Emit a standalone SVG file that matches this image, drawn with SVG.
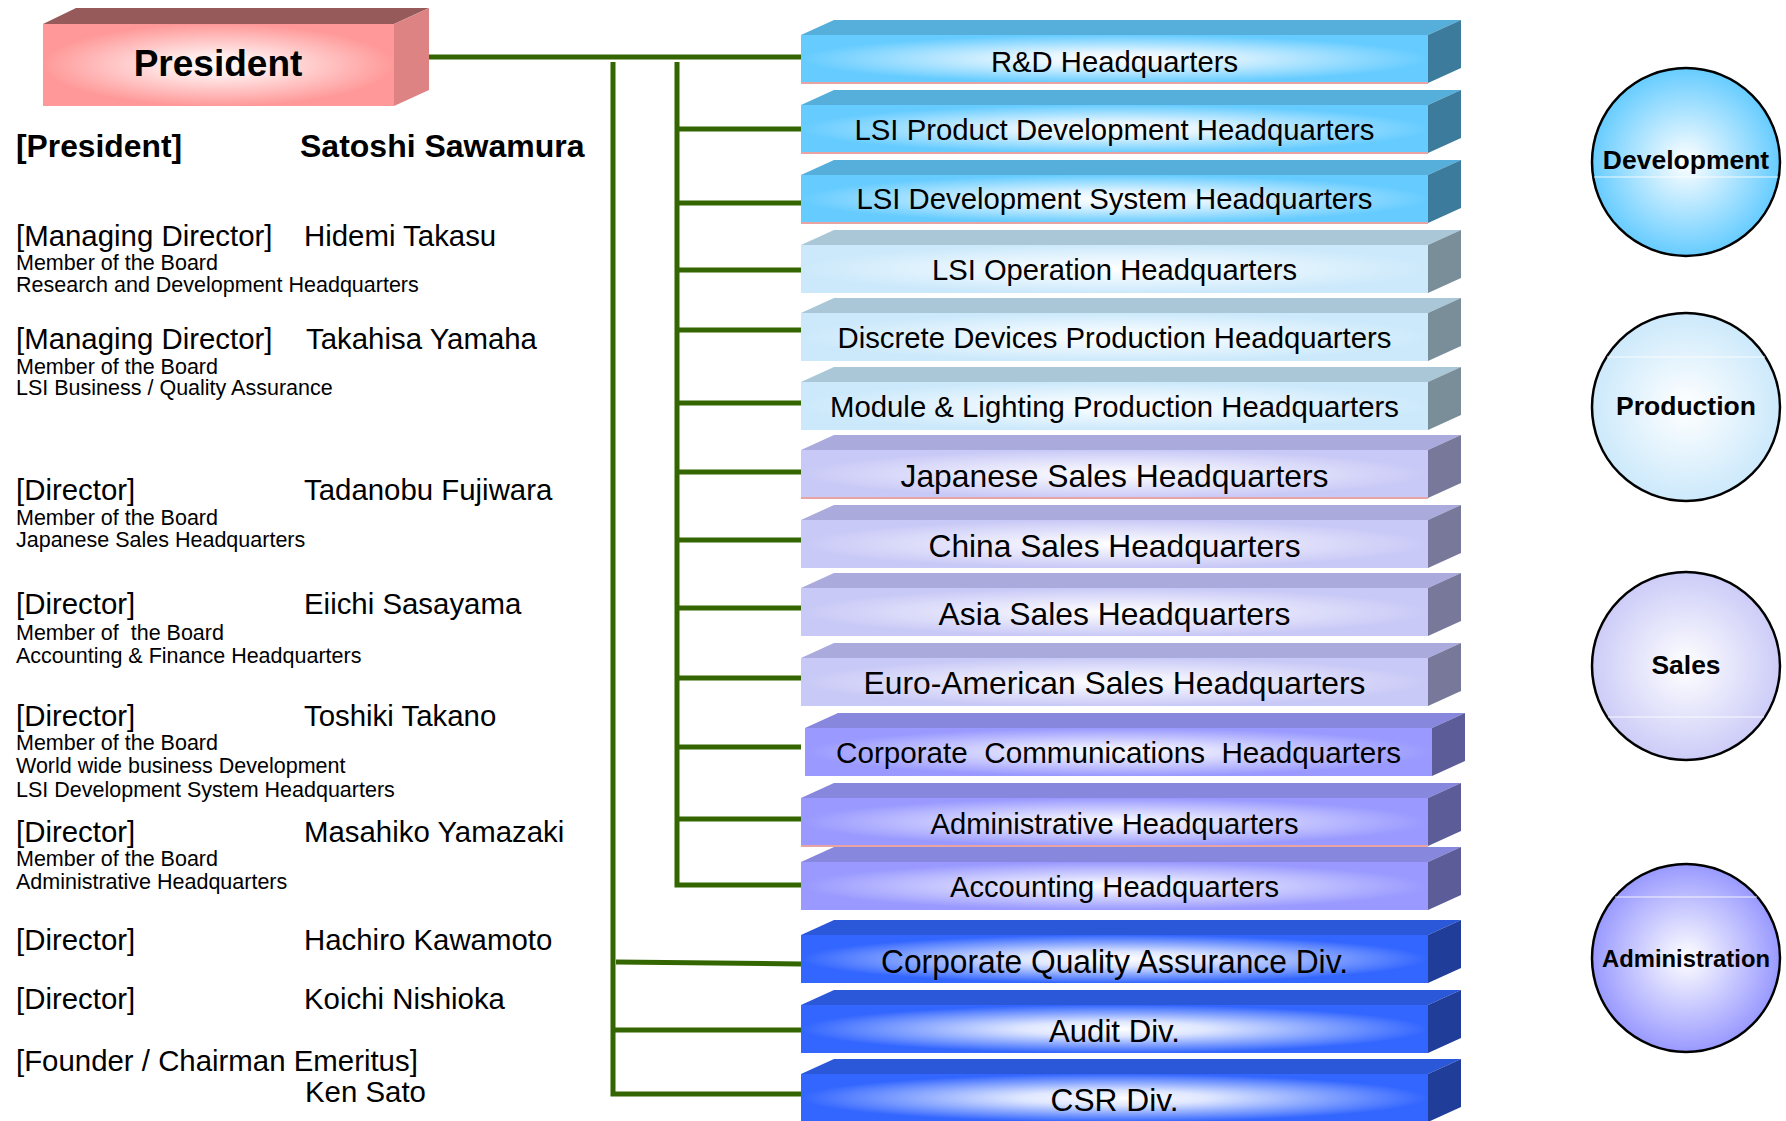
<svg xmlns="http://www.w3.org/2000/svg" width="1786" height="1121" viewBox="0 0 1786 1121">
<style>
text{font-family:"Liberation Sans",Arial,sans-serif;fill:#000}
.b{font-weight:bold}
.lbl{text-anchor:middle}
.big{font-size:29.4px}
.sm{font-size:21.5px}
.conn{stroke:#336600;stroke-width:5;fill:none}
.devT{fill:#56aedb}.devS{fill:#3c7b9b}
.proT{fill:#a9c7d7}.proS{fill:#7a8e99}
.salT{fill:#aaaadc}.salS{fill:#78789a}
.admT{fill:#8787dd}.admS{fill:#5c5c99}
.divT{fill:#2b57d9}.divS{fill:#1f3d99}
.pink{stroke:#e9a3a3;stroke-width:2}
.circ{stroke:#000;stroke-width:2.5}
.chord{stroke:#fff;stroke-width:1;opacity:.85}
</style>
<defs>
<radialGradient id="gPres" cx="0.5" cy="0.5" r="0.5"><stop offset="0" stop-color="#ffffff"/><stop offset="0.3" stop-color="#ffe6e6"/><stop offset="1" stop-color="#ff9999"/></radialGradient>
<radialGradient id="gDev" cx="0.5" cy="0.5" r="0.5"><stop offset="0" stop-color="#ffffff"/><stop offset="0.3" stop-color="#e4f5ff"/><stop offset="1" stop-color="#66ccff"/></radialGradient>
<radialGradient id="gPro" cx="0.5" cy="0.5" r="0.5"><stop offset="0" stop-color="#ffffff"/><stop offset="0.3" stop-color="#f0f9ff"/><stop offset="1" stop-color="#cce9fb"/></radialGradient>
<radialGradient id="gSal" cx="0.5" cy="0.5" r="0.5"><stop offset="0" stop-color="#ffffff"/><stop offset="0.3" stop-color="#efeffd"/><stop offset="1" stop-color="#c9c9f7"/></radialGradient>
<radialGradient id="gAdm" cx="0.5" cy="0.5" r="0.5"><stop offset="0" stop-color="#ffffff"/><stop offset="0.3" stop-color="#e2e2ff"/><stop offset="1" stop-color="#9999ff"/></radialGradient>
<radialGradient id="gDiv" cx="0.5" cy="0.5" r="0.5"><stop offset="0" stop-color="#ffffff"/><stop offset="0.3" stop-color="#dfe7ff"/><stop offset="1" stop-color="#3366ff"/></radialGradient>
<radialGradient id="cDev" cx="0.5" cy="0.5" r="0.5"><stop offset="0" stop-color="#ffffff"/><stop offset="1" stop-color="#66ccff"/></radialGradient>
<radialGradient id="cPro" cx="0.5" cy="0.5" r="0.5"><stop offset="0" stop-color="#ffffff"/><stop offset="1" stop-color="#cce9fb"/></radialGradient>
<radialGradient id="cSal" cx="0.5" cy="0.5" r="0.5"><stop offset="0" stop-color="#ffffff"/><stop offset="1" stop-color="#ccccf8"/></radialGradient>
<radialGradient id="cAdm" cx="0.5" cy="0.5" r="0.5"><stop offset="0" stop-color="#ffffff"/><stop offset="1" stop-color="#9999ff"/></radialGradient>
</defs>
<rect x="0" y="0" width="1786" height="1121" fill="#fff"/>

<g id="connectors">
<path class="conn" d="M428,57 H801"/>
<path class="conn" d="M613,62 V1094 H801"/>
<path class="conn" d="M677,62 V885 H801"/>
<path class="conn" d="M675,129 H801 M675,203 H801 M675,270 H801 M675,330 H801 M675,403 H801 M675,472 H801 M675,540 H801 M675,608 H801 M675,678 H801 M675,747 H801 M675,819 H801"/>
<path class="conn" d="M616,962 L801,964 M613,1030 H801"/>
</g>

<g id="president">
<polygon points="43,24 76,8 429,8 394,24" fill="#965a5a"/>
<polygon points="394,24 429,8 429,90 394,106" fill="#de8383"/>
<rect x="43" y="24" width="351" height="82" fill="url(#gPres)"/>
<text class="b lbl" x="218" y="76" font-size="37">President</text>
</g>

<g id="officers">
<text class="b" x="16" y="157" font-size="31.8">[President]</text>
<text class="b" x="300" y="157" font-size="32">Satoshi Sawamura</text>
<text class="big" x="16" y="246">[Managing Director]</text>
<text class="big" x="304" y="246">Hidemi Takasu</text>
<text class="sm" x="16" y="270">Member of the Board</text>
<text class="sm" x="16" y="292">Research and Development Headquarters</text>
<text class="big" x="16" y="349">[Managing Director]</text>
<text class="big" x="306" y="349">Takahisa Yamaha</text>
<text class="sm" x="16" y="374">Member of the Board</text>
<text class="sm" x="16" y="395">LSI Business / Quality Assurance</text>
<text class="big" x="16" y="500">[Director]</text>
<text class="big" x="304" y="500">Tadanobu Fujiwara</text>
<text class="sm" x="16" y="525">Member of the Board</text>
<text class="sm" x="16" y="547">Japanese Sales Headquarters</text>
<text class="big" x="16" y="614">[Director]</text>
<text class="big" x="304" y="614">Eiichi Sasayama</text>
<text class="sm" x="16" y="640" xml:space="preserve">Member of  the Board</text>
<text class="sm" x="16" y="663">Accounting &amp; Finance Headquarters</text>
<text class="big" x="16" y="726">[Director]</text>
<text class="big" x="304" y="726">Toshiki Takano</text>
<text class="sm" x="16" y="750">Member of the Board</text>
<text class="sm" x="16" y="773">World wide business Development</text>
<text class="sm" x="16" y="797">LSI Development System Headquarters</text>
<text class="big" x="16" y="842">[Director]</text>
<text class="big" x="304" y="842">Masahiko Yamazaki</text>
<text class="sm" x="16" y="866">Member of the Board</text>
<text class="sm" x="16" y="889">Administrative Headquarters</text>
<text class="big" x="16" y="950">[Director]</text>
<text class="big" x="304" y="950">Hachiro Kawamoto</text>
<text class="big" x="16" y="1009">[Director]</text>
<text class="big" x="304" y="1009">Koichi Nishioka</text>
<text class="big" x="16" y="1071">[Founder / Chairman Emeritus]</text>
<text class="big" x="305" y="1102">Ken Sato</text>
</g>

<g id="box-rd" transform="translate(0,35)">
<polygon class="devT" points="801,0 834,-15 1461,-15 1428,0"/>
<polygon class="devS" points="1428,0 1461,-15 1461,33 1428,48"/>
<rect x="801" y="0" width="627" height="48" fill="url(#gDev)"/>
<line class="pink" x1="801" y1="48" x2="1428" y2="48"/>
<text class="lbl" x="1114.5" y="37" font-size="29" textLength="247" lengthAdjust="spacingAndGlyphs">R&amp;D Headquarters</text>
</g>
<g id="box-lsi-product" transform="translate(0,105)">
<polygon class="devT" points="801,0 834,-15 1461,-15 1428,0"/>
<polygon class="devS" points="1428,0 1461,-15 1461,33 1428,48"/>
<rect x="801" y="0" width="627" height="48" fill="url(#gDev)"/>
<line class="pink" x1="801" y1="48" x2="1428" y2="48"/>
<text class="lbl" x="1114.5" y="35" font-size="29.5" textLength="520" lengthAdjust="spacingAndGlyphs">LSI Product Development Headquarters</text>
</g>
<g id="box-lsi-devsys" transform="translate(0,175)">
<polygon class="devT" points="801,0 834,-15 1461,-15 1428,0"/>
<polygon class="devS" points="1428,0 1461,-15 1461,33 1428,48"/>
<rect x="801" y="0" width="627" height="48" fill="url(#gDev)"/>
<line class="pink" x1="801" y1="48" x2="1428" y2="48"/>
<text class="lbl" x="1114.5" y="34" font-size="29.5" textLength="516" lengthAdjust="spacingAndGlyphs">LSI Development System Headquarters</text>
</g>
<g id="box-lsi-operation" transform="translate(0,245)">
<polygon class="proT" points="801,0 834,-15 1461,-15 1428,0"/>
<polygon class="proS" points="1428,0 1461,-15 1461,33 1428,48"/>
<rect x="801" y="0" width="627" height="48" fill="url(#gPro)"/>
<text class="lbl" x="1114.5" y="35" font-size="29.5" textLength="365" lengthAdjust="spacingAndGlyphs">LSI Operation Headquarters</text>
</g>
<g id="box-discrete" transform="translate(0,313)">
<polygon class="proT" points="801,0 834,-15 1461,-15 1428,0"/>
<polygon class="proS" points="1428,0 1461,-15 1461,33 1428,48"/>
<rect x="801" y="0" width="627" height="48" fill="url(#gPro)"/>
<text class="lbl" x="1114.5" y="35" font-size="29.5" textLength="554" lengthAdjust="spacingAndGlyphs">Discrete Devices Production Headquarters</text>
</g>
<g id="box-module" transform="translate(0,382)">
<polygon class="proT" points="801,0 834,-15 1461,-15 1428,0"/>
<polygon class="proS" points="1428,0 1461,-15 1461,33 1428,48"/>
<rect x="801" y="0" width="627" height="48" fill="url(#gPro)"/>
<text class="lbl" x="1114.5" y="35" font-size="29.5" textLength="569" lengthAdjust="spacingAndGlyphs">Module &amp; Lighting Production Headquarters</text>
</g>
<g id="box-japan-sales" transform="translate(0,450)">
<polygon class="salT" points="801,0 834,-15 1461,-15 1428,0"/>
<polygon class="salS" points="1428,0 1461,-15 1461,33 1428,48"/>
<rect x="801" y="0" width="627" height="48" fill="url(#gSal)"/>
<line class="pink" x1="801" y1="48" x2="1428" y2="48"/>
<text class="lbl" x="1114.5" y="37" font-size="31.8" textLength="428" lengthAdjust="spacingAndGlyphs">Japanese Sales Headquarters</text>
</g>
<g id="box-china-sales" transform="translate(0,520)">
<polygon class="salT" points="801,0 834,-15 1461,-15 1428,0"/>
<polygon class="salS" points="1428,0 1461,-15 1461,33 1428,48"/>
<rect x="801" y="0" width="627" height="48" fill="url(#gSal)"/>
<text class="lbl" x="1114.5" y="37" font-size="31.6" textLength="372" lengthAdjust="spacingAndGlyphs">China Sales Headquarters</text>
</g>
<g id="box-asia-sales" transform="translate(0,588)">
<polygon class="salT" points="801,0 834,-15 1461,-15 1428,0"/>
<polygon class="salS" points="1428,0 1461,-15 1461,33 1428,48"/>
<rect x="801" y="0" width="627" height="48" fill="url(#gSal)"/>
<text class="lbl" x="1114.5" y="37" font-size="31.6" textLength="352" lengthAdjust="spacingAndGlyphs">Asia Sales Headquarters</text>
</g>
<g id="box-euro-sales" transform="translate(0,658)">
<polygon class="salT" points="801,0 834,-15 1461,-15 1428,0"/>
<polygon class="salS" points="1428,0 1461,-15 1461,33 1428,48"/>
<rect x="801" y="0" width="627" height="48" fill="url(#gSal)"/>
<text class="lbl" x="1114.5" y="36" font-size="31.8" textLength="502" lengthAdjust="spacingAndGlyphs">Euro-American Sales Headquarters</text>
</g>
<g id="box-corp-comm" transform="translate(4,728)">
<polygon class="admT" points="801,0 834,-15 1461,-15 1428,0"/>
<polygon class="admS" points="1428,0 1461,-15 1461,33 1428,48"/>
<rect x="801" y="0" width="627" height="48" fill="url(#gAdm)"/>
<text class="lbl" x="1114.5" y="35" font-size="29.8" textLength="565" lengthAdjust="spacingAndGlyphs" xml:space="preserve">Corporate  Communications  Headquarters</text>
</g>
<g id="box-administrative" transform="translate(0,798)">
<polygon class="admT" points="801,0 834,-15 1461,-15 1428,0"/>
<polygon class="admS" points="1428,0 1461,-15 1461,33 1428,48"/>
<rect x="801" y="0" width="627" height="48" fill="url(#gAdm)"/>
<line class="pink" x1="801" y1="48" x2="1428" y2="48"/>
<text class="lbl" x="1114.5" y="36" font-size="29.2" textLength="368" lengthAdjust="spacingAndGlyphs">Administrative Headquarters</text>
</g>
<g id="box-accounting" transform="translate(0,862)">
<polygon class="admT" points="801,0 834,-15 1461,-15 1428,0"/>
<polygon class="admS" points="1428,0 1461,-15 1461,33 1428,48"/>
<rect x="801" y="0" width="627" height="48" fill="url(#gAdm)"/>
<text class="lbl" x="1114.5" y="35" font-size="29" textLength="329" lengthAdjust="spacingAndGlyphs">Accounting Headquarters</text>
</g>
<g id="box-cqa" transform="translate(0,935)">
<polygon class="divT" points="801,0 834,-15 1461,-15 1428,0"/>
<polygon class="divS" points="1428,0 1461,-15 1461,33 1428,48"/>
<rect x="801" y="0" width="627" height="48" fill="url(#gDiv)"/>
<text class="lbl" x="1114.5" y="38" font-size="32.5" textLength="467" lengthAdjust="spacingAndGlyphs">Corporate Quality Assurance Div.</text>
</g>
<g id="box-audit" transform="translate(0,1005)">
<polygon class="divT" points="801,0 834,-15 1461,-15 1428,0"/>
<polygon class="divS" points="1428,0 1461,-15 1461,33 1428,48"/>
<rect x="801" y="0" width="627" height="48" fill="url(#gDiv)"/>
<text class="lbl" x="1114.5" y="37" font-size="31.8" textLength="131" lengthAdjust="spacingAndGlyphs">Audit Div.</text>
</g>
<g id="box-csr" transform="translate(0,1074)">
<polygon class="divT" points="801,0 834,-15 1461,-15 1428,0"/>
<polygon class="divS" points="1428,0 1461,-15 1461,33 1428,48"/>
<rect x="801" y="0" width="627" height="48" fill="url(#gDiv)"/>
<text class="lbl" x="1114.5" y="37" font-size="32.2" textLength="128" lengthAdjust="spacingAndGlyphs">CSR Div.</text>
</g>

<g id="circle-development">
<circle class="circ" cx="1686" cy="162" r="94" fill="url(#cDev)"/>
<line class="chord" x1="1594" y1="177" x2="1778" y2="177"/>
<text class="b lbl" x="1686" y="169" font-size="26.5">Development</text>
</g>
<g id="circle-production">
<circle class="circ" cx="1686" cy="407" r="94" fill="url(#cPro)"/>
<line class="chord" x1="1607" y1="357" x2="1765" y2="357"/>
<text class="b lbl" x="1686" y="415" font-size="26.5">Production</text>
</g>
<g id="circle-sales">
<circle class="circ" cx="1686" cy="666" r="94" fill="url(#cSal)"/>
<line class="chord" x1="1608" y1="717" x2="1764" y2="717"/>
<text class="b lbl" x="1686" y="674" font-size="26.4">Sales</text>
</g>
<g id="circle-administration">
<circle class="circ" cx="1686" cy="958" r="94" fill="url(#cAdm)"/>
<line class="chord" x1="1615" y1="897" x2="1757" y2="897"/>
<text class="b lbl" x="1686" y="967" font-size="23.8">Administration</text>
</g>
</svg>
